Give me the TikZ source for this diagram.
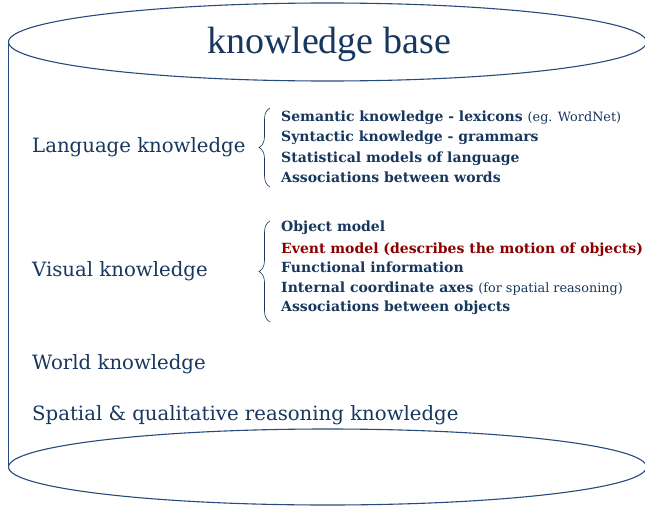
\documentclass[tikz,border=0pt]{standalone}
\usepackage{fontspec}
\setmainfont{DejaVu Serif}
\newfontfamily\titlefont{Liberation Serif}
\usetikzlibrary{decorations.pathreplacing}
\definecolor{navy}{RGB}{23,55,94}
\definecolor{cylline}{RGB}{40,75,125}
\definecolor{darkred}{RGB}{140,0,0}
\newcommand\mynote[1]{{\fontsize{12.8}{14}\selectfont\mdseries #1}}
\tikzset{
  cyl/.style={draw=cylline, line width=1.1pt},
  lab/.style={anchor=base west, inner sep=0pt, text=navy, font=\fontsize{19.7}{22}\selectfont},
  item/.style={anchor=base west, inner sep=0pt, text=navy, font=\fontsize{14}{15}\selectfont\bfseries},
  brc/.style={draw=navy, line width=0.6pt, decorate, decoration={brace, amplitude=11pt}}
}
\begin{document}
\begin{tikzpicture}[x=1pt, y=-1pt]
\useasboundingbox (0,0) rectangle (645,506);
\clip (0,0) rectangle (645,506);
\fill[white] (0,0) rectangle (645,506);
% cylinder
\draw[cyl] (8.5,42) -- (8.5,467);
\draw[cyl] (647,42) -- (647,467);
\draw[cyl] (327.5,42) ellipse [x radius=319, y radius=39];
\draw[cyl] (327.5,467) ellipse [x radius=319, y radius=38];
\node[anchor=center, inner sep=0pt, text=navy, font=\titlefont\fontsize{38}{40}\selectfont] (title) at (329,44) {knowledge base};
% left labels
\node[lab] (lang) at (32,152) {Language knowledge};
\node[lab] (vis) at (32,276) {Visual knowledge};
\node[lab] (world) at (32,369) {World knowledge};
\node[lab] (spat) at (32,420) {Spatial \& qualitative reasoning knowledge};
% braces
\draw[brc] (270,187) -- (270,108);
\draw[brc] (270,322) -- (270,221);
% language items
\node[item] (l1) at (281,121) {Semantic knowledge - lexicons \mynote{(eg. WordNet)}};
\node[item] (l2) at (281,141.5) {Syntactic knowledge - grammars};
\node[item] (l3) at (281,162) {Statistical models of language};
\node[item] (l4) at (281,182) {Associations between words};
% visual items
\node[item] (v1) at (281,231.5) {Object model};
\node[item, text=darkred] (v2) at (281,253) {Event model (describes the motion of objects)};
\node[item] (v3) at (281,272.5) {Functional information};
\node[item] (v4) at (281,292.5) {Internal coordinate axes \mynote{(for spatial reasoning)}};
\node[item] (v5) at (281,311.5) {Associations between objects};
\end{tikzpicture}
\end{document}
